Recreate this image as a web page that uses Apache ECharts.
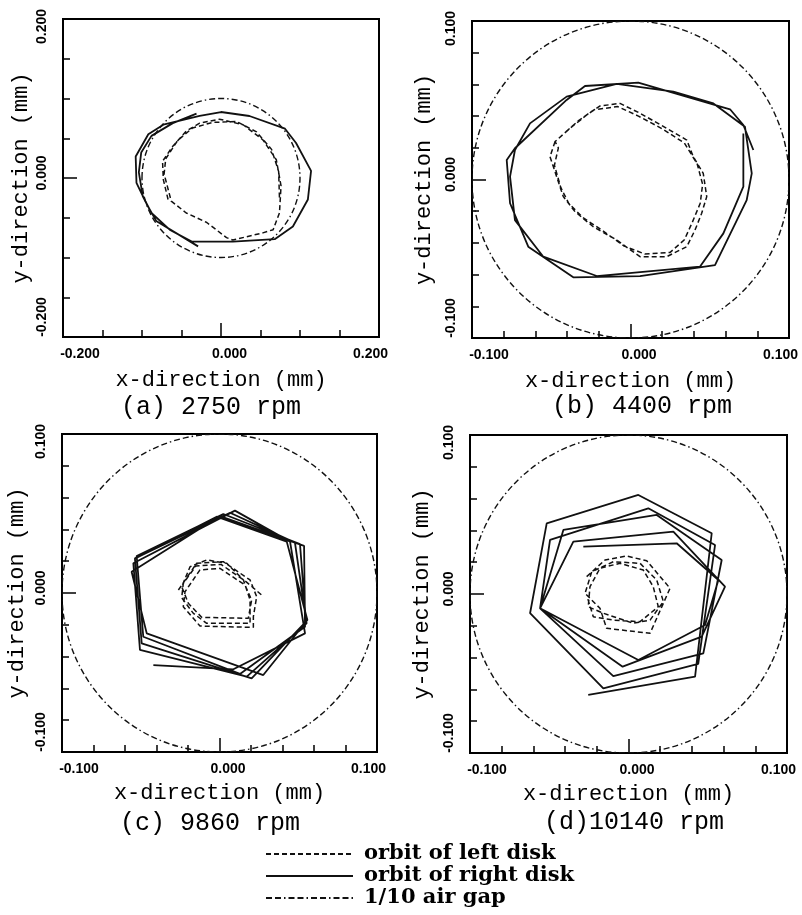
<!DOCTYPE html>
<html><head><meta charset="utf-8">
<script src="https://cdn.jsdelivr.net/npm/echarts@6/dist/echarts.min.js"></script>
<style>html,body{margin:0;padding:0;background:#fff}#c{width:802px;height:915px}</style>
</head><body><div id="c"></div>
<script>
// ---------------- data ----------------
const panelCaptions = ['(a) 2750 rpm', '(b) 4400 rpm', '(c) 9860 rpm', '(d)10140 rpm'];
const axisHalfRange = [0.2, 0.1, 0.1, 0.1];          // mm
const minorTickStep = [0.05, 0.02, 0.02, 0.02];      // mm
const airGapCircle = [0, 0, 0.1];                    // centre x, centre y, radius (mm)
const seriesNames = ['orbit of left disk', 'orbit of right disk', '1/10 air gap'];

// (a) 2750 rpm
const leftDiskA = [[-0.067,-0.027],[-0.073,-0.002],[-0.074,0.021],[-0.061,0.040],[-0.044,0.059],[-0.027,0.069],[-0.002,0.074],[0.028,0.067],[0.053,0.048],[0.070,0.023],[0.076,-0.010],[0.074,-0.044],[0.066,-0.065],[0.053,-0.069],[0.015,-0.078],[0.007,-0.075],[-0.018,-0.056],[-0.044,-0.044],[-0.063,-0.029],[-0.072,0.005],[-0.070,0.024],[-0.055,0.047],[-0.036,0.063],[-0.010,0.070],[0.020,0.071],[0.045,0.058],[0.064,0.036],[0.073,0.008],[0.074,-0.025]];
const rightDiskA = [[-0.029,-0.086],[-0.082,-0.054],[-0.094,-0.033],[-0.107,-0.006],[-0.108,0.027],[-0.092,0.055],[-0.073,0.067],[-0.027,0.078],[0.000,0.083],[0.036,0.078],[0.081,0.062],[0.095,0.044],[0.114,0.009],[0.110,-0.027],[0.091,-0.061],[0.068,-0.077],[0.015,-0.080],[-0.037,-0.080],[-0.065,-0.065],[-0.088,-0.044],[-0.099,-0.023],[-0.104,0.007],[-0.101,0.032],[-0.088,0.053],[-0.061,0.069],[-0.031,0.081]];

// (b) 4400 rpm
const leftDiskB = [[-0.0476,0.0239],[-0.0508,0.0144],[-0.0466,0.0018],[-0.0424,-0.0108],[-0.035,-0.0203],[-0.0235,-0.0298],[-0.0087,-0.0382],[0.006,-0.0487],[0.0228,-0.0487],[0.0355,-0.0424],[0.0407,-0.0319],[0.0449,-0.0213],[0.0481,-0.0108],[0.0459,0.0039],[0.0396,0.0144],[0.0355,0.0249],[0.0228,0.0323],[0.006,0.0418],[-0.0066,0.048],[-0.0192,0.0464],[-0.0276,0.0407],[-0.0382,0.0323],[-0.0476,0.0239],[-0.0455,0.0200],[-0.0480,0.0090],[-0.0440,-0.0050],[-0.0390,-0.0150],[-0.0300,-0.0240],[-0.0180,-0.0320],[-0.0040,-0.0420],[0.0090,-0.0470],[0.0250,-0.0460],[0.0340,-0.0380],[0.0390,-0.0270],[0.0440,-0.0150],[0.0455,-0.0030],[0.0420,0.0100],[0.0340,0.0230],[0.0200,0.0320],[0.0050,0.0400],[-0.0080,0.0460],[-0.0230,0.0440],[-0.0330,0.0370],[-0.0420,0.0290]];
const rightDiskB = [[0.0775,0.0186],[0.0712,0.0344],[0.0628,0.0443],[0.0049,0.0611],[-0.0287,0.059],[-0.0403,0.0502],[-0.0729,0.0197],[-0.0781,0.0123],[-0.076,-0.015],[-0.0645,-0.0424],[-0.0361,-0.0617],[0.006,-0.0609],[0.0533,-0.054],[0.0733,-0.013],[0.0765,0.0039],[0.0722,0.0333],[0.0523,0.048],[0.027,0.0554],[-0.0087,0.0603],[-0.0403,0.0523],[-0.0634,0.0354],[-0.0729,0.0186],[-0.076,0.0018],[-0.0729,-0.0256],[-0.055,-0.0487],[-0.0213,-0.0609],[0.0438,-0.055],[0.0586,-0.034],[0.0712,-0.0045],[0.0712,0.0291]];

// (c) 9860 rpm
const leftDiskC = [[-0.0261,0.0019],[-0.0145,0.0187],[0.0024,0.0197],[0.0194,0.0082],[0.0236,-0.0023],[0.0215,-0.0149],[0.0215,-0.0216],[-0.0124,-0.0208],[-0.023,-0.0086],[-0.0219,0.0008],[-0.0124,0.0145],[0.0003,0.0155],[0.0162,0.005],[0.0204,-0.0044],[0.0183,-0.0159],[-0.0113,-0.0153],[-0.0198,-0.0065],[-0.0240,0.0040],[-0.0187,0.0165],[-0.0081,0.0208],[0.0046,0.0187],[0.0152,0.0082],[0.0194,-0.0044],[0.0194,-0.0191],[-0.0081,-0.0191],[-0.0166,-0.0128],[-0.0240,-0.0030],[-0.0230,0.0060],[-0.0150,0.0170],[0.0010,0.0180],[0.0170,0.0070],[0.0268,-0.0013]];
const rightDiskC = [[-0.042,-0.0453],[0.0088,-0.048],[0.0543,-0.0254],[0.0448,0.0323],[0.0098,0.0518],[-0.0547,0.0187],[-0.0505,-0.0358],[0.0173,-0.0526],[0.0553,-0.0191],[0.0479,0.0317],[0.0067,0.0505],[-0.0537,0.0218],[-0.0494,-0.0317],[0.0204,-0.0537],[0.0549,-0.018],[0.0511,0.0308],[0.0024,0.0497],[-0.0526,0.0233],[-0.0484,-0.0275],[0.013,-0.0509],[0.0543,-0.0212],[0.0537,0.0296],[0.0003,0.0484],[-0.0558,0.0134],[-0.0462,-0.0254],[0.0278,-0.0516],[0.0558,-0.017],[0.0427,0.0323],[-0.0018,0.048],[-0.0522,0.0224]];

// (d) 10140 rpm
const leftDiskD = [[-0.0264,0.0109],[-0.0148,0.0214],[-0.0011,0.0239],[0.0115,0.0209],[0.0262,0.0036],[0.0136,-0.0247],[-0.0138,-0.0216],[-0.018,-0.009],[-0.0274,0.0004],[-0.0232,0.014],[-0.0096,0.0203],[0.0073,0.0193],[0.0178,0.0088],[0.022,-0.0048],[0.0136,-0.0164],[0.003,-0.0184],[-0.0159,-0.0121],[-0.0254,-0.008],[-0.0243,0.0046],[-0.018,0.0162],[-0.0054,0.0193],[0.0093,0.0151],[0.0156,0.0046],[0.0188,-0.008],[0.0073,-0.0174],[-0.0096,-0.0164],[-0.0222,-0.0143],[-0.0260,-0.0020]];
const rightDiskD = [[-0.0285,0.0298],[0.0304,0.0319],[0.0567,0.0088],[0.0483,-0.0195],[0.0062,-0.0415],[-0.0558,-0.009],[-0.0348,0.0329],[0.0283,0.0392],[0.0609,0.0046],[0.0462,-0.0268],[-0.0037,-0.0457],[-0.0558,-0.009],[-0.0411,0.0403],[0.0178,0.0497],[0.0588,0.0214],[0.0472,-0.0373],[-0.0096,-0.0516],[-0.0558,-0.009],[-0.0495,0.034],[0.0125,0.0539],[0.0546,0.0308],[0.0440,-0.0440],[-0.0159,-0.0593],[-0.0621,-0.0121],[-0.0516,0.0444],[0.0062,0.0623],[0.0525,0.0382],[0.042,-0.052],[-0.0254,-0.0635]];

const leftDisk = [leftDiskA, leftDiskB, leftDiskC, leftDiskD];
const rightDisk = [rightDiskA, rightDiskB, rightDiskC, rightDiskD];

// ---------------- layout / style ----------------
const gridBoxes = [
  {left: 63,  top: 19,  width: 316, height: 318},
  {left: 472, top: 21,  width: 317, height: 317},
  {left: 62,  top: 434, width: 315, height: 318},
  {left: 470, top: 435, width: 317, height: 318}
];
const xNameGap = [32, 32, 30, 30];
const yNameGap = [31, 37, 34, 37];
const captionPos = [[211, 407], [642, 406], [210, 823], [634, 822]];

const INK = '#111';
const DASH_LEFT = [5, 3];
const DASH_GAP = [6, 3, 6, 3, 1.5, 3];
const tickFont = {fontFamily: 'Liberation Sans', fontWeight: 'bold', fontSize: 14, color: '#000'};
const titleFont = {fontFamily: 'Liberation Mono', fontSize: 22, color: '#000'};

function fmt(v) { return Math.abs(v) < 1e-9 ? '0.000' : v.toFixed(3); }
function key(v) { return Math.abs(v) < 1e-9 ? 'mid' : (v < 0 ? 'lo' : 'hi'); }

const grid = [], xAxis = [], yAxis = [], series = [];

// empty series so that the legend shows a dash-dot line for the air gap
series.push({type: 'line', name: seriesNames[2], data: [], symbol: 'none', xAxisIndex: 0, yAxisIndex: 0,
  lineStyle: {color: INK, width: 1.4, type: DASH_GAP}, itemStyle: {color: INK}});

gridBoxes.forEach((g, i) => {
  const R = axisHalfRange[i];
  grid.push(Object.assign({show: true, borderColor: '#000', borderWidth: 2, backgroundColor: 'transparent',
    outerBoundsMode: 'none', containLabel: false}, g));
  const common = {type: 'value', gridIndex: i, min: -R, max: R, splitLine: {show: false},
    axisLine: {show: false, onZero: false}};
  // minor ticks
  xAxis.push(Object.assign({}, common, {position: 'bottom', interval: minorTickStep[i],
    axisTick: {show: true, inside: true, length: 7, lineStyle: {color: '#000', width: 1.5}},
    axisLabel: {show: false}}));
  yAxis.push(Object.assign({}, common, {position: 'left', interval: minorTickStep[i],
    axisTick: {show: true, inside: true, length: 7, lineStyle: {color: '#000', width: 1.5}},
    axisLabel: {show: false}}));
  // major ticks + labels + names
  xAxis.push(Object.assign({}, common, {position: 'bottom', interval: R,
    axisTick: {show: true, inside: true, length: 14, lineStyle: {color: '#000', width: 1.5}},
    axisLabel: Object.assign({show: true, margin: 10,
      formatter: v => '{' + key(v) + '|' + fmt(v) + '}',
      rich: {lo: Object.assign({padding: [0, 0, 0, 34]}, tickFont),
             mid: Object.assign({padding: [0, 0, 0, 17]}, tickFont),
             hi: Object.assign({padding: [0, 17, 0, 0]}, tickFont)}}, tickFont),
    name: 'x-direction (mm)', nameLocation: 'middle', nameGap: xNameGap[i], nameTextStyle: titleFont}));
  yAxis.push(Object.assign({}, common, {position: 'left', interval: R,
    axisTick: {show: true, inside: true, length: 14, lineStyle: {color: '#000', width: 1.5}},
    axisLabel: Object.assign({show: true, margin: 14, rotate: 90,
      formatter: v => '{' + key(v) + '|' + fmt(v) + '}',
      rich: {lo: Object.assign({padding: [0, 0, 0, 40]}, tickFont),
             mid: Object.assign({padding: [0, 0, 0, 10]}, tickFont),
             hi: Object.assign({padding: [0, 15, 0, 0]}, tickFont)}}, tickFont),
    name: 'y-direction (mm)', nameLocation: 'middle', nameGap: yNameGap[i], nameTextStyle: titleFont}));

  const xi = 2 * i, yi = 2 * i;
  series.push({type: 'line', name: seriesNames[0], xAxisIndex: xi, yAxisIndex: yi, data: leftDisk[i],
    symbol: 'none', smooth: false, clip: true, animation: false,
    lineStyle: {color: INK, width: 1.5, type: DASH_LEFT}, itemStyle: {color: INK}});
  series.push({type: 'line', name: seriesNames[1], xAxisIndex: xi, yAxisIndex: yi, data: rightDisk[i],
    symbol: 'none', smooth: false, clip: true, animation: false,
    lineStyle: {color: INK, width: 1.8, type: 'solid'}, itemStyle: {color: INK}});
  series.push({type: 'custom', name: seriesNames[2], xAxisIndex: xi, yAxisIndex: yi, coordinateSystem: 'cartesian2d',
    data: [airGapCircle], encode: {x: 0, y: 1}, clip: true, silent: true, animation: false,
    itemStyle: {color: INK},
    renderItem: function (params, api) {
      const c = api.coord([api.value(0), api.value(1)]);
      const s = api.size([api.value(2), api.value(2)], [api.value(0), api.value(1)]);
      return {type: 'ellipse', shape: {cx: c[0], cy: c[1], rx: s[0], ry: s[1]},
        style: {fill: 'none', stroke: INK, lineWidth: 1.4, lineDash: DASH_GAP}};
    }});
});

const graphic = panelCaptions.map((t, i) => ({
  type: 'text', x: captionPos[i][0], y: captionPos[i][1], silent: true,
  style: {text: t, font: '25px "Liberation Mono"', fill: '#000', align: 'center', verticalAlign: 'middle',
    textAlign: 'center', textVerticalAlign: 'middle'}
}));

const chart = echarts.init(document.getElementById('c'), null, {renderer: 'canvas'});
chart.setOption({
  animation: false,
  backgroundColor: '#fff',
  grid, xAxis, yAxis, series, graphic,
  legend: {
    data: seriesNames, orient: 'vertical', left: 265, top: 843, bottom: 0, padding: 0,
    itemWidth: 87, itemHeight: 14, itemGap: 0, selectedMode: false,
    itemStyle: {color: 'rgba(0,0,0,0)', borderWidth: 0},
    textStyle: {fontFamily: 'DejaVu Serif', fontWeight: 'bold', fontSize: 21, color: '#000', lineHeight: 22, padding: [0, 0, 0, 6]}
  }
});
</script></body></html>
